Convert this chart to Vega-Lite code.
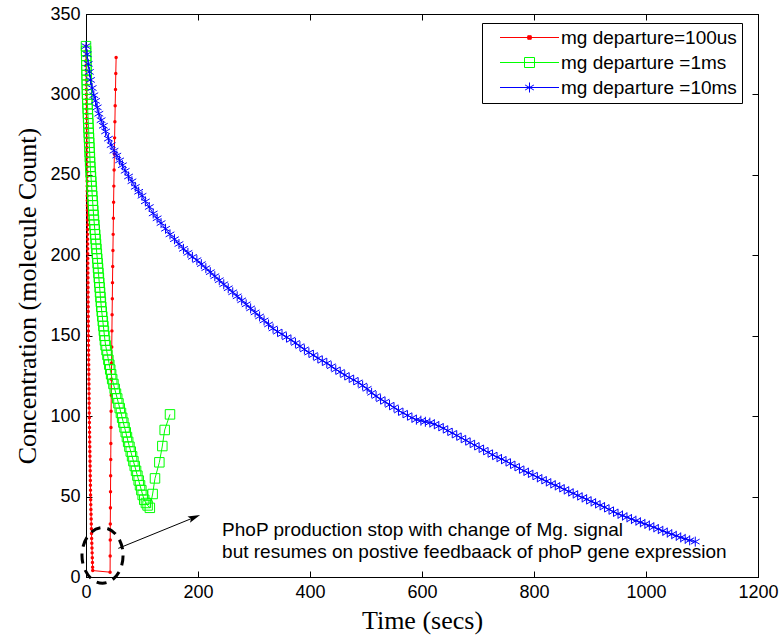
{
  "$schema": "https://vega.github.io/schema/vega-lite/v6.json",
  "width": 672,
  "height": 563,
  "autosize": {"type": "none"},
  "padding": {"left": 86, "top": 14, "right": 26, "bottom": 62},
  "background": "white",
  "datasets": {
    "red": [
      {"t":0,"v":330},{"t":0.075,"v":327},{"t":0.15,"v":324},{"t":0.225,"v":321},{"t":0.3,"v":318},{"t":0.375,"v":315},{"t":0.45,"v":312},{"t":0.525,"v":309},{"t":0.6,"v":306},{"t":0.675,"v":303},{"t":0.75,"v":300},{"t":0.825,"v":297},{"t":0.9,"v":294},{"t":0.975,"v":291},{"t":1.05,"v":288},{"t":1.125,"v":285},{"t":1.2,"v":282},{"t":1.275,"v":279},{"t":1.35,"v":276},{"t":1.425,"v":273},{"t":1.5,"v":270},{"t":1.575,"v":267},{"t":1.65,"v":264},{"t":1.725,"v":261},{"t":1.8,"v":258},{"t":1.875,"v":255},{"t":1.95,"v":252},{"t":2.02,"v":249},{"t":2.09,"v":246},{"t":2.15,"v":243},{"t":2.22,"v":240},{"t":2.28,"v":237},{"t":2.35,"v":234},{"t":2.41,"v":231},{"t":2.48,"v":228},{"t":2.55,"v":225},{"t":2.62,"v":222},{"t":2.68,"v":219},{"t":2.75,"v":216},{"t":2.81,"v":213},{"t":2.88,"v":210},{"t":2.94,"v":207},{"t":3.01,"v":204},{"t":3.08,"v":201},{"t":3.15,"v":198},{"t":3.22,"v":195},{"t":3.29,"v":192},{"t":3.36,"v":189},{"t":3.44,"v":186},{"t":3.51,"v":183},{"t":3.58,"v":180},{"t":3.65,"v":177},{"t":3.72,"v":174},{"t":3.79,"v":171},{"t":3.87,"v":168},{"t":3.94,"v":165},{"t":4.01,"v":162},{"t":4.08,"v":159},{"t":4.16,"v":156},{"t":4.23,"v":153},{"t":4.3,"v":150},{"t":4.4,"v":147},{"t":4.49,"v":144},{"t":4.58,"v":141},{"t":4.68,"v":138},{"t":4.78,"v":135},{"t":4.88,"v":132},{"t":4.97,"v":129},{"t":5.07,"v":126},{"t":5.16,"v":123},{"t":5.26,"v":120},{"t":5.35,"v":117},{"t":5.45,"v":114},{"t":5.54,"v":111},{"t":5.64,"v":108},{"t":5.74,"v":105},{"t":5.84,"v":102},{"t":5.95,"v":99},{"t":6.08,"v":96},{"t":6.22,"v":93},{"t":6.36,"v":90},{"t":6.5,"v":87},{"t":6.64,"v":84},{"t":6.77,"v":81},{"t":6.91,"v":78},{"t":7.05,"v":75},{"t":7.19,"v":72},{"t":7.32,"v":69},{"t":7.46,"v":66},{"t":7.6,"v":63},{"t":7.74,"v":60},{"t":7.88,"v":57},{"t":8.02,"v":54},{"t":8.16,"v":51},{"t":8.34,"v":48},{"t":8.56,"v":45},{"t":8.78,"v":42},{"t":9.0,"v":39},{"t":9.21,"v":36},{"t":9.42,"v":33},{"t":9.64,"v":30},{"t":9.86,"v":27},{"t":10.1,"v":24},{"t":10.38,"v":21},{"t":10.67,"v":18},{"t":10.95,"v":15},{"t":11.24,"v":12},{"t":11.52,"v":9},{"t":11.8,"v":6},{"t":12,"v":4},
      {"t":43.0,"v":3},{"t":43.15,"v":13},{"t":43.3,"v":23},{"t":43.4,"v":33},{"t":43.6,"v":43},{"t":43.8,"v":53},{"t":44.0,"v":63},{"t":44.2,"v":73},{"t":44.4,"v":83},{"t":44.6,"v":93},{"t":44.8,"v":103},{"t":45.1,"v":113},{"t":45.4,"v":123},{"t":45.7,"v":133},{"t":46.0,"v":143},{"t":46.3,"v":153},{"t":46.6,"v":163},{"t":47.0,"v":173},{"t":47.3,"v":183},{"t":47.7,"v":193},{"t":48.1,"v":203},{"t":48.5,"v":213},{"t":48.9,"v":223},{"t":49.3,"v":233},{"t":49.7,"v":243},{"t":50.2,"v":253},{"t":50.6,"v":263},{"t":51.1,"v":273},{"t":51.6,"v":283},{"t":52.1,"v":293},{"t":52.7,"v":303},{"t":53.2,"v":313},{"t":53.8,"v":323}
    ],
    "green": [
      {"t":0,"v":330},{"t":0.18,"v":327},{"t":0.36,"v":324},{"t":0.54,"v":321},{"t":0.72,"v":318},{"t":0.9,"v":315},{"t":1.08,"v":312},{"t":1.26,"v":309},{"t":1.44,"v":306},{"t":1.62,"v":303},{"t":1.8,"v":300},{"t":2.19,"v":297},{"t":2.59,"v":294},{"t":2.98,"v":291},{"t":3.37,"v":288},{"t":3.77,"v":285},{"t":4.16,"v":282},{"t":4.55,"v":279},{"t":4.95,"v":276},{"t":5.34,"v":273},{"t":5.73,"v":270},{"t":6.13,"v":267},{"t":6.52,"v":264},{"t":6.91,"v":261},{"t":7.31,"v":258},{"t":7.7,"v":255},{"t":8.28,"v":252},{"t":8.86,"v":249},{"t":9.44,"v":246},{"t":10.03,"v":243},{"t":10.61,"v":240},{"t":11.19,"v":237},{"t":11.77,"v":234},{"t":12.35,"v":231},{"t":12.94,"v":228},{"t":13.52,"v":225},{"t":14.19,"v":222},{"t":14.93,"v":219},{"t":15.66,"v":216},{"t":16.4,"v":213},{"t":17.13,"v":210},{"t":17.86,"v":207},{"t":18.6,"v":204},{"t":19.33,"v":201},{"t":20.07,"v":198},{"t":20.8,"v":195},{"t":21.52,"v":192},{"t":22.24,"v":189},{"t":22.95,"v":186},{"t":23.67,"v":183},{"t":24.39,"v":180},{"t":25.11,"v":177},{"t":25.83,"v":174},{"t":26.54,"v":171},{"t":27.26,"v":168},{"t":28.14,"v":165},{"t":29.09,"v":162},{"t":30.05,"v":159},{"t":31.0,"v":156},{"t":31.95,"v":153},{"t":32.91,"v":150},{"t":33.86,"v":147},{"t":35.05,"v":144},{"t":36.69,"v":141},{"t":38.34,"v":138},{"t":39.98,"v":135},{"t":41.62,"v":132},{"t":43.26,"v":129},{"t":44.9,"v":126},{"t":46.75,"v":123},{"t":49.0,"v":120},{"t":51.25,"v":117},{"t":53.5,"v":114},{"t":55.75,"v":111},{"t":58.0,"v":108},{"t":60.25,"v":105},{"t":62.43,"v":102},{"t":64.57,"v":99},{"t":66.71,"v":96},{"t":68.86,"v":93},{"t":71.0,"v":90},{"t":73.14,"v":87},{"t":75.29,"v":84},{"t":77.58,"v":81},{"t":79.94,"v":78},{"t":82.3,"v":75},{"t":84.67,"v":72},{"t":87.03,"v":69},{"t":89.39,"v":66},{"t":91.76,"v":63},{"t":94.12,"v":60},{"t":96.48,"v":57},{"t":98.85,"v":54},{"t":101.21,"v":51},{"t":104,"v":48},{"t":107,"v":46},{"t":110,"v":44.5},{"t":114,"v":43},
      {"t":119,"v":51.6},{"t":123.2,"v":61.3},{"t":131,"v":71.3},{"t":136.3,"v":81.4},{"t":140.5,"v":91.4},{"t":150,"v":101.1}
    ],
    "blue": [
      {"t":0,"v":330},{"t":2,"v":325},{"t":4,"v":319},{"t":6,"v":314},{"t":8,"v":309},{"t":11,"v":304},{"t":14,"v":299.5},{"t":17,"v":296},{"t":20,"v":292},{"t":23,"v":288},{"t":27,"v":284},{"t":31,"v":280.5},{"t":35,"v":277},{"t":40,"v":272.5},{"t":45,"v":268.5},{"t":50,"v":265},{"t":55,"v":262},{"t":60,"v":259},{"t":65,"v":256},{"t":70,"v":252.5},{"t":76,"v":249},{"t":82,"v":246},{"t":88,"v":242.5},{"t":94,"v":239.5},{"t":100,"v":237},{"t":106,"v":233.5},{"t":113,"v":230},{"t":120,"v":226},{"t":127,"v":223},{"t":134,"v":220},{"t":142,"v":216.5},{"t":150,"v":213},{"t":158,"v":210},{"t":166,"v":207},{"t":174,"v":204},{"t":182,"v":201.5},{"t":190,"v":199},{"t":198,"v":197},{"t":206,"v":194.5},{"t":214,"v":192},{"t":222,"v":189.5},{"t":230,"v":187},{"t":238,"v":184.5},{"t":246,"v":182},{"t":254,"v":179.5},{"t":262,"v":177},{"t":270,"v":174.5},{"t":278,"v":172},{"t":286,"v":169.5},{"t":294,"v":167},{"t":302,"v":164.5},{"t":310,"v":162},{"t":318,"v":159.5},{"t":326,"v":157},{"t":334,"v":154.5},{"t":342,"v":152.5},{"t":350,"v":151},{"t":358,"v":149},{"t":366,"v":147.5},{"t":374,"v":145.5},{"t":382,"v":143.5},{"t":390,"v":141.5},{"t":398,"v":139.5},{"t":406,"v":138},{"t":414,"v":136},{"t":422,"v":134.5},{"t":430,"v":133},{"t":438,"v":131},{"t":446,"v":129},{"t":454,"v":127.5},{"t":462,"v":125.5},{"t":470,"v":124},{"t":478,"v":122.5},{"t":486,"v":121},{"t":494,"v":119},{"t":502,"v":117},{"t":510,"v":114.5},{"t":518,"v":112.5},{"t":526,"v":110.5},{"t":534,"v":109},{"t":542,"v":107},{"t":550,"v":105.5},{"t":558,"v":103.5},{"t":566,"v":102},{"t":574,"v":100.5},{"t":582,"v":99},{"t":590,"v":97.8},{"t":598,"v":97.2},{"t":606,"v":96.5},{"t":614,"v":96},{"t":622,"v":95},{"t":630,"v":93.8},{"t":638,"v":92.5},{"t":646,"v":91},{"t":654,"v":89.5},{"t":662,"v":88},{"t":670,"v":86.5},{"t":678,"v":85},{"t":686,"v":83.5},{"t":694,"v":82},{"t":702,"v":80.5},{"t":710,"v":79},{"t":718,"v":77.5},{"t":726,"v":76},{"t":734,"v":74.5},{"t":742,"v":73.3},{"t":750,"v":72},{"t":758,"v":70.5},{"t":766,"v":69},{"t":774,"v":67.5},{"t":782,"v":66},{"t":790,"v":64.8},{"t":798,"v":63.5},{"t":806,"v":62},{"t":814,"v":60.8},{"t":822,"v":59.5},{"t":830,"v":58.2},{"t":838,"v":57},{"t":846,"v":55.8},{"t":854,"v":54.5},{"t":862,"v":53.2},{"t":870,"v":52},{"t":878,"v":50.7},{"t":886,"v":49.5},{"t":894,"v":48.3},{"t":902,"v":47},{"t":910,"v":45.8},{"t":918,"v":44.6},{"t":926,"v":43.4},{"t":934,"v":42},{"t":942,"v":40.6},{"t":950,"v":39.3},{"t":958,"v":38.2},{"t":966,"v":37.1},{"t":974,"v":36},{"t":982,"v":35},{"t":990,"v":34},{"t":998,"v":33},{"t":1006,"v":32},{"t":1014,"v":30.9},{"t":1022,"v":29.8},{"t":1030,"v":28.7},{"t":1038,"v":27.6},{"t":1046,"v":26.6},{"t":1054,"v":25.6},{"t":1062,"v":24.6},{"t":1070,"v":23.7},{"t":1078,"v":22.8},{"t":1088,"v":22}
    ]
  },
  "layer": [
    {
      "data": {"name": "red"},
      "mark": {"type": "line", "strokeWidth": 1},
      "encoding": {
        "x": {"field": "t", "type": "quantitative", "scale": {"domain": [0, 1200], "nice": false, "zero": false},
              "axis": {"orient": "bottom", "values": [0, 200, 400, 600, 800, 1000, 1200], "format": "d", "title": "Time (secs)", "titlePadding": 6}},
        "y": {"field": "v", "type": "quantitative", "scale": {"domain": [0, 350], "nice": false},
              "axis": {"orient": "left", "values": [0, 50, 100, 150, 200, 250, 300, 350], "format": "d", "title": "Concentration (molecule Count)", "titlePadding": 9}},
        "color": {"datum": "mg departure=100us", "type": "nominal",
          "scale": {"domain": ["mg departure=100us", "mg departure =1ms", "mg departure =10ms"], "range": ["#ff0000", "#00ff00", "#0000ff"]},
          "legend": {
            "orient": "none", "legendX": 396, "legendY": 9, "title": null,
            "padding": 5, "rowPadding": 5, "symbolSize": 100, "symbolOffset": 33, "symbolStrokeWidth": 1,
            "symbolType": "M-5.9,0H5.9",
            "labelFont": "Liberation Sans", "labelFontSize": 19, "labelOffset": 22, "labelLimit": 400, "labelColor": "black",
            "strokeColor": "black", "fillColor": "white", "cornerRadius": 0,
            "encode": {"symbols": {"update": {
              "shape": {"signal": "datum.value === 'mg departure=100us' ? 'M-5.9,0H5.9M-0.35,-0.35H0.35V0.35H-0.35Z' : datum.value === 'mg departure =1ms' ? 'M-5.9,0H5.9M-1,-1H1V1H-1Z' : 'M-5.9,0H5.9M0,-1V1M-0.87,-0.5L0.87,0.5M-0.87,0.5L0.87,-0.5'"},
              "fill": {"signal": "datum.value === 'mg departure=100us' ? '#ff0000' : 'transparent'"},
              "opacity": {"value": 1}
            }}}
          }}
      }
    },
    {
      "data": {"name": "red"},
      "mark": {"type": "point", "shape": "circle", "filled": true, "color": "#ff0000", "size": 12, "opacity": 1},
      "encoding": {
        "x": {"field": "t", "type": "quantitative", "scale": {"domain": [0, 1200], "nice": false, "zero": false}, "axis": null},
        "y": {"field": "v", "type": "quantitative", "scale": {"domain": [0, 350], "nice": false}, "axis": null}
      }
    },
    {
      "data": {"name": "green"},
      "mark": {"type": "line", "strokeWidth": 1},
      "encoding": {
        "x": {"field": "t", "type": "quantitative", "scale": {"domain": [0, 1200], "nice": false, "zero": false}, "axis": null},
        "y": {"field": "v", "type": "quantitative", "scale": {"domain": [0, 350], "nice": false}, "axis": null},
        "color": {"datum": "mg departure =1ms", "type": "nominal",
          "scale": {"domain": ["mg departure=100us", "mg departure =1ms", "mg departure =10ms"], "range": ["#ff0000", "#00ff00", "#0000ff"]}}
      }
    },
    {
      "data": {"name": "green"},
      "mark": {"type": "point", "shape": "square", "filled": false, "color": "#00ff00", "size": 90, "strokeWidth": 1, "opacity": 1},
      "encoding": {
        "x": {"field": "t", "type": "quantitative", "scale": {"domain": [0, 1200], "nice": false, "zero": false}, "axis": null},
        "y": {"field": "v", "type": "quantitative", "scale": {"domain": [0, 350], "nice": false}, "axis": null}
      }
    },
    {
      "data": {"name": "blue"},
      "mark": {"type": "line", "strokeWidth": 1},
      "encoding": {
        "x": {"field": "t", "type": "quantitative", "scale": {"domain": [0, 1200], "nice": false, "zero": false}, "axis": null},
        "y": {"field": "v", "type": "quantitative", "scale": {"domain": [0, 350], "nice": false}, "axis": null},
        "color": {"datum": "mg departure =10ms", "type": "nominal",
          "scale": {"domain": ["mg departure=100us", "mg departure =1ms", "mg departure =10ms"], "range": ["#ff0000", "#00ff00", "#0000ff"]}}
      }
    },
    {
      "data": {"name": "blue"},
      "mark": {"type": "point", "shape": "M0,-1V1M-0.87,-0.5L0.87,0.5M-0.87,0.5L0.87,-0.5", "filled": false, "color": "#0000ff", "size": 100, "strokeWidth": 1, "opacity": 1},
      "encoding": {
        "x": {"field": "t", "type": "quantitative", "scale": {"domain": [0, 1200], "nice": false, "zero": false}, "axis": null},
        "y": {"field": "v", "type": "quantitative", "scale": {"domain": [0, 350], "nice": false}, "axis": null}
      }
    },
    {
      "data": {"name": "blue"},
      "mark": {"type": "point", "opacity": 0},
      "encoding": {
        "x": {"field": "t", "type": "quantitative", "scale": {"domain": [0, 1200], "nice": false, "zero": false},
              "axis": {"orient": "top", "values": [0, 200, 400, 600, 800, 1000, 1200], "labels": false, "title": null}},
        "y": {"field": "v", "type": "quantitative", "scale": {"domain": [0, 350], "nice": false},
              "axis": {"orient": "right", "values": [0, 50, 100, 150, 200, 250, 300, 350], "labels": false, "title": null}}
      }
    },
    {
      "data": {"values": [{}]},
      "mark": {"type": "text", "align": "left", "baseline": "middle", "font": "Liberation Sans", "fontSize": 19, "color": "black",
               "text": "PhoP production stop with change of Mg. signal"},
      "encoding": {
        "x": {"datum": 243, "type": "quantitative", "scale": {"domain": [0, 1200], "nice": false, "zero": false}, "axis": null},
        "y": {"datum": 29.2, "type": "quantitative", "scale": {"domain": [0, 350], "nice": false}, "axis": null}
      }
    },
    {
      "data": {"values": [{}]},
      "mark": {"type": "text", "align": "left", "baseline": "middle", "font": "Liberation Sans", "fontSize": 19, "color": "black",
               "text": "but resumes on postive feedbaack of phoP gene expression"},
      "encoding": {
        "x": {"datum": 243, "type": "quantitative", "scale": {"domain": [0, 1200], "nice": false, "zero": false}, "axis": null},
        "y": {"datum": 15.5, "type": "quantitative", "scale": {"domain": [0, 350], "nice": false}, "axis": null}
      }
    },
    {
      "data": {"values": [{}]},
      "mark": {"type": "point", "shape": "M0.74,0C0.74,0.552,0.408,1,0,1C-0.408,1,-0.74,0.552,-0.74,0C-0.74,-0.552,-0.408,-1,0,-1C0.408,-1,0.74,-0.552,0.74,0Z",
               "size": 3080, "filled": false, "stroke": "black", "strokeWidth": 3, "strokeDash": [10, 7], "opacity": 1},
      "encoding": {
        "x": {"datum": 29.5, "type": "quantitative", "scale": {"domain": [0, 1200], "nice": false, "zero": false}, "axis": null},
        "y": {"datum": 13.4, "type": "quantitative", "scale": {"domain": [0, 350], "nice": false}, "axis": null}
      }
    },
    {
      "data": {"values": [{}]},
      "mark": {"type": "rule", "color": "black", "strokeWidth": 1},
      "encoding": {
        "x": {"datum": 57.7, "type": "quantitative", "scale": {"domain": [0, 1200], "nice": false, "zero": false}, "axis": null},
        "y": {"datum": 17.8, "type": "quantitative", "scale": {"domain": [0, 350], "nice": false}, "axis": null},
        "x2": {"datum": 196},
        "y2": {"datum": 37.4}
      }
    },
    {
      "data": {"values": [{}]},
      "mark": {"type": "point", "shape": "M1,0L-1,-0.55L-0.6,0L-1,0.55Z", "size": 150, "filled": true, "color": "black", "angle": -22, "opacity": 1},
      "encoding": {
        "x": {"datum": 193.6, "type": "quantitative", "scale": {"domain": [0, 1200], "nice": false, "zero": false}, "axis": null},
        "y": {"datum": 37.1, "type": "quantitative", "scale": {"domain": [0, 350], "nice": false}, "axis": null}
      }
    }
  ],
  "resolve": {"axis": {"x": "independent", "y": "independent"}},
  "config": {
    "view": {"stroke": "black", "strokeWidth": 1},
    "axis": {
      "grid": false, "labelFlush": false,
      "labelFont": "Liberation Sans", "labelFontSize": 18, "labelColor": "black",
      "tickColor": "black", "domainColor": "black", "tickSize": -6, "labelPadding": 12,
      "titleFont": "Liberation Serif", "titleFontSize": 26, "titleFontWeight": "normal", "titleColor": "black", "titlePadding": 4
    }
  }
}
